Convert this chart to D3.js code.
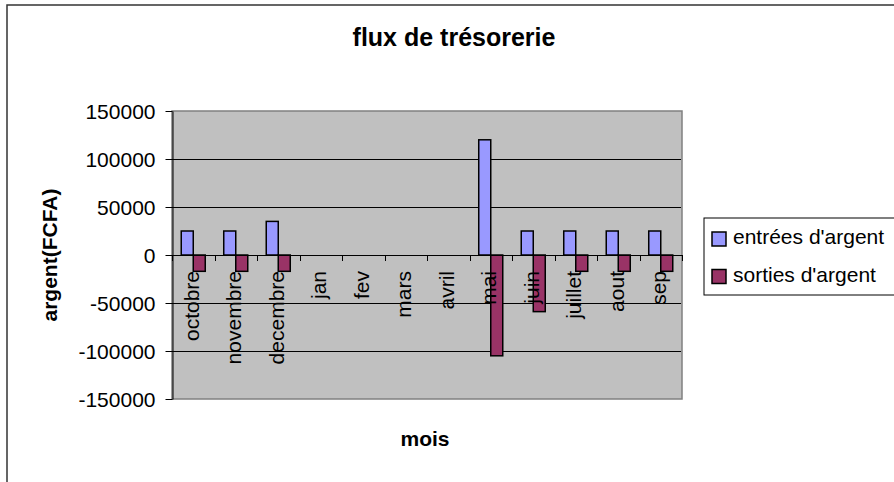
<!DOCTYPE html>
<html>
<head>
<meta charset="utf-8">
<script src="https://cdn.jsdelivr.net/npm/d3@7"></script>
<style>
  body { margin: 0; background: #fff; }
  svg { display: block; font-family: Arial, 'Liberation Sans', sans-serif; }
</style>
</head>
<body>
<svg id="chart" width="894" height="482"></svg>
<script>
const months = ['octobre', 'novembre', 'decembre', 'jan', 'fev', 'mars', 'avril', 'mai', 'juin', 'juillet', 'aout', 'sep']
const entrees = [25000, 25000, 35000, 0, 0, 0, 0, 120000, 25000, 25000, 25000, 25000]
const sorties = [-17000, -17000, -17000, 0, 0, 0, 0, -105000, -59000, -17000, -17000, -17000]
const seriesNames = ["entrées d'argent", "sorties d'argent"]
const yTicks = [-150000, -100000, -50000, 0, 50000, 100000, 150000]

const colors = ['#9999ff', '#993366']
const plot = { left: 172, right: 682, top: 111, bottom: 399 }

const svg = d3.select('#chart')

// outer frame
svg.append('rect')
  .attr('x', 7).attr('y', 5).attr('width', 910).attr('height', 500)
  .attr('fill', '#fff').attr('stroke', '#333').attr('stroke-width', 1.5)

const x = d3.scaleBand()
  .domain(months)
  .range([plot.left, plot.right])
  .paddingInner(0.435)
  .paddingOuter(0.2175)

const xs = d3.scaleBand().domain([0, 1]).range([0, x.bandwidth()])

const y = d3.scaleLinear().domain([-150000, 150000]).range([plot.bottom, plot.top])

// plot background
svg.append('rect')
  .attr('x', plot.left).attr('y', plot.top)
  .attr('width', plot.right - plot.left).attr('height', plot.bottom - plot.top)
  .attr('fill', '#c0c0c0').attr('stroke', '#808080').attr('stroke-width', 1.5)

// gridlines
svg.append('g')
  .selectAll('line')
  .data(yTicks.filter(d => d !== 0 && d !== -150000 && d !== 150000))
  .enter()
  .append('line')
  .attr('x1', plot.left).attr('x2', plot.right - 1)
  .attr('y1', d => Math.round(y(d)) + 0.5).attr('y2', d => Math.round(y(d)) + 0.5)
  .attr('stroke', '#000')

// y axis
const yAxis = svg.append('g')
  .attr('transform', 'translate(' + (plot.left + 0.5) + ',0)')
  .call(d3.axisLeft(y).tickValues(yTicks).tickSize(7).tickSizeOuter(0).tickPadding(10).tickFormat(d => String(d)))
yAxis.select('.domain').attr('stroke', '#000')
yAxis.selectAll('.tick line').attr('stroke', '#000')
yAxis.selectAll('.tick text')
  .attr('font-size', 21).attr('font-family', 'Arial, Liberation Sans, sans-serif')
  .attr('fill', '#000').attr('dy', '0.35em')

// bars
const groups = svg.append('g')
  .selectAll('g')
  .data(months)
  .enter()
  .append('g')
  .attr('transform', d => 'translate(' + x(d) + ',0)')

groups.selectAll('rect')
  .data((d, i) => [entrees[i], sorties[i]].map((v, s) => ({ v, s })))
  .enter()
  .append('rect')
  .filter(d => d.v !== 0)
  .attr('x', d => xs(d.s))
  .attr('width', xs.bandwidth())
  .attr('y', d => y(Math.max(0, d.v)))
  .attr('height', d => Math.abs(y(d.v) - y(0)))
  .attr('fill', d => colors[d.s])
  .attr('stroke', '#000')
  .attr('stroke-width', 1.5)

// zero axis with category ticks
svg.append('line')
  .attr('x1', plot.left).attr('x2', plot.right)
  .attr('y1', Math.round(y(0)) + 0.5).attr('y2', Math.round(y(0)) + 0.5)
  .attr('stroke', '#000')

svg.append('g')
  .selectAll('line')
  .data(d3.range(months.length + 1))
  .enter()
  .append('line')
  .attr('x1', i => Math.round(plot.left + i * x.step()) + 0.5)
  .attr('x2', i => Math.round(plot.left + i * x.step()) + 0.5)
  .attr('y1', y(0)).attr('y2', y(0) + 6)
  .attr('stroke', '#000')

// category labels (drawn over the bars)
svg.append('g')
  .selectAll('text')
  .data(months)
  .enter()
  .append('text')
  .attr('transform', d => 'translate(' + (x(d) + x.bandwidth() / 2 - 2) + ',271) rotate(-90)')
  .attr('text-anchor', 'end')
  .attr('dy', '0.35em')
  .attr('font-size', 21)
  .text(d => d)

// titles
svg.append('text')
  .attr('x', 454).attr('y', 46)
  .attr('text-anchor', 'middle')
  .attr('font-size', 25).attr('font-weight', 'bold')
  .text('flux de trésorerie')

svg.append('text')
  .attr('x', 425).attr('y', 446)
  .attr('text-anchor', 'middle')
  .attr('font-size', 21).attr('font-weight', 'bold')
  .text('mois')

svg.append('text')
  .attr('transform', 'translate(57,' + y(0) + ') rotate(-90)')
  .attr('text-anchor', 'middle')
  .attr('font-size', 21).attr('font-weight', 'bold')
  .text('argent(FCFA)')

// legend
const legend = svg.append('g').attr('transform', 'translate(704,218)')
legend.append('rect')
  .attr('width', 220).attr('height', 77)
  .attr('fill', '#fff').attr('stroke', '#000').attr('stroke-width', 1)

const items = legend.selectAll('g.item')
  .data(seriesNames)
  .enter()
  .append('g')
  .attr('class', 'item')
  .attr('transform', (d, i) => 'translate(8,' + (14 + i * 37.5) + ')')

items.append('rect')
  .attr('width', 14).attr('height', 14)
  .attr('fill', (d, i) => colors[i])
  .attr('stroke', '#000').attr('stroke-width', 1.5)

items.append('text')
  .attr('x', 21).attr('y', 12)
  .attr('font-size', 21)
  .text(d => d)
</script>
</body>
</html>
